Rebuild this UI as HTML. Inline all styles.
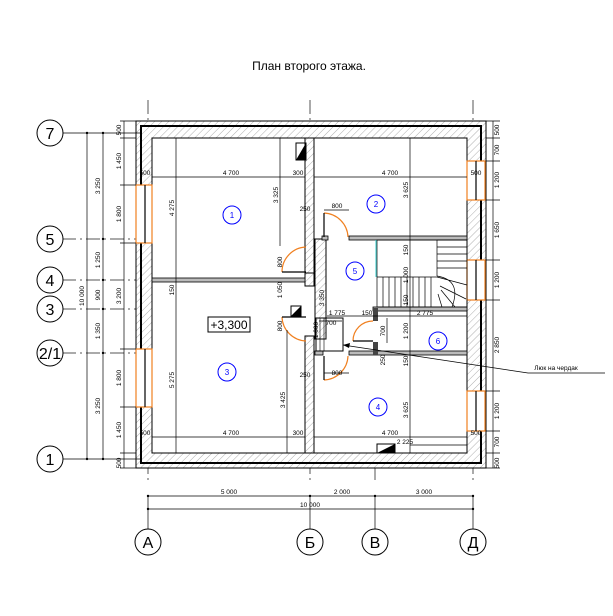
<!DOCTYPE html>
<html><head><meta charset="utf-8"><style>
html,body{margin:0;padding:0;background:#fff}
svg{display:block}
text{font-family:"Liberation Sans",sans-serif;fill:#000}
</style></head><body>
<svg width="613" height="616" viewBox="0 0 613 616" xmlns="http://www.w3.org/2000/svg">
<defs>
<pattern id="h" width="5" height="5" patternUnits="userSpaceOnUse" patternTransform="rotate(45)">
<rect width="5" height="5" fill="#fff"/><line x1="0" y1="0" x2="0" y2="5" stroke="#999" stroke-width="0.8"/>
</pattern>
</defs>
<text x="309" y="70" font-size="12" text-anchor="middle">План второго этажа.</text>

<g stroke="#555" stroke-width="1" stroke-dasharray="14,4,2,4" fill="none">
<line x1="148" y1="100" x2="148" y2="480"/>
<line x1="310" y1="100" x2="310" y2="480"/>
<line x1="375" y1="300" x2="375" y2="480"/>
<line x1="473" y1="100" x2="473" y2="480"/>
<line x1="62" y1="239" x2="470" y2="239"/>
<line x1="62" y1="280" x2="470" y2="280"/>
<line x1="62" y1="309" x2="470" y2="309"/>
<line x1="62" y1="353" x2="470" y2="353"/>
</g>

<rect x="136" y="121" width="350" height="347" fill="url(#h)" stroke="#000" stroke-width="1"/>
<rect x="141" y="126" width="340" height="337" fill="none" stroke="#000" stroke-width="2"/>
<rect x="152" y="138" width="315" height="315" fill="#fff" stroke="#000" stroke-width="1"/>

<g fill="#fff" stroke="#f08020" stroke-width="1.2">
<rect x="136" y="185" width="16" height="58"/><line x1="145" y1="185" x2="145" y2="243" stroke="#000"/>
<rect x="136" y="349" width="16" height="58"/><line x1="145" y1="349" x2="145" y2="407" stroke="#000"/>
<rect x="467" y="161" width="18" height="39"/><line x1="476" y1="161" x2="476" y2="200" stroke="#000"/>
<rect x="467" y="260" width="18" height="40"/><line x1="476" y1="260" x2="476" y2="300" stroke="#000"/>
<rect x="467" y="391" width="18" height="40"/><line x1="476" y1="391" x2="476" y2="431" stroke="#000"/>
</g>

<g fill="url(#h)" stroke="#000" stroke-width="1">
<rect x="305" y="138" width="9" height="135"/>
<rect x="305" y="273" width="9" height="13"/>
<rect x="305" y="336" width="9" height="117"/>
<rect x="315" y="239" width="11" height="100"/>
</g>
<g fill="#bbb" stroke="#000" stroke-width="0.8">
<rect x="152" y="278" width="153" height="4"/>
<rect x="349" y="236" width="118" height="4"/>
<rect x="373" y="307" width="94" height="4"/>
<rect x="349" y="351" width="118" height="4"/>
<rect x="315" y="351" width="8" height="4"/>
<rect x="322" y="236" width="6" height="4"/>
</g>
<rect x="373" y="308" width="5" height="13" fill="#444"/>
<rect x="373" y="342" width="5" height="13" fill="#444"/>

<g stroke="#000" stroke-width="0.7" fill="none">
<rect x="377" y="240" width="90" height="67"/>
<line x1="437" y1="240" x2="437" y2="276"/>
<line x1="377" y1="277" x2="437" y2="277"/>
<path d="M437 240 L467 240 M437 247 H467 M437 254 H467 M437 261 H467 M437 268 H467"/>
<path d="M383 277V307M389 277V307M395 277V307M401 277V307M407 277V307M413 277V307M419 277V307M425 277V307M431 277V307"/>
<path d="M437 276 Q462 280 452 307 M437 277 L467 285 M440 286 L466 299 M441 290 L455 307 M438 294 L442 307"/>
</g>
<line x1="376" y1="240" x2="376" y2="277" stroke="#3cc" stroke-width="1"/>

<rect x="316" y="318" width="27" height="33" fill="none" stroke="#000" stroke-width="1"/>
<rect x="320" y="318" width="4" height="33" fill="none" stroke="#000" stroke-width="0.6"/>

<g fill="none" stroke="#f08020" stroke-width="1.2">
<path d="M306 247 A25 25 0 0 0 282 272"/><line x1="282" y1="272" x2="306" y2="272" stroke="#000"/>
<path d="M282 317 A25 25 0 0 0 306 341"/><line x1="282" y1="317" x2="306" y2="317" stroke="#000"/>
<path d="M324 213 A25 25 0 0 1 348 237"/><line x1="324" y1="213" x2="324" y2="237" stroke="#000"/>
<path d="M348 356 A25 25 0 0 1 324 380"/><line x1="324" y1="356" x2="324" y2="380" stroke="#000"/>
<path d="M373 321 A20 20 0 0 0 353 341"/><line x1="353" y1="341" x2="373" y2="341" stroke="#000"/>
</g>

<polygon points="296,160 306,143 306,160" fill="#000"/><rect x="296" y="143" width="10" height="17" fill="none" stroke="#000"/>
<rect x="291" y="306" width="10" height="10" fill="none" stroke="#000"/><polygon points="291,316 301,306 301,316" fill="#000"/>
<rect x="377" y="444" width="18" height="9" fill="none" stroke="#000"/><polygon points="377,453 395,444 395,453" fill="#000"/>

<g stroke="#000" stroke-width="0.7" fill="none">
<line x1="152" y1="177" x2="305" y2="177"/><line x1="314" y1="177" x2="467" y2="177"/>
<line x1="152" y1="437" x2="305" y2="437"/><line x1="314" y1="437" x2="467" y2="437"/>
<line x1="176" y1="138" x2="176" y2="453"/>
<line x1="280" y1="138" x2="280" y2="246"/>
<line x1="287" y1="330" x2="287" y2="453"/>
<line x1="410" y1="138" x2="410" y2="453"/>
<line x1="410" y1="445" x2="467" y2="445"/>
<line x1="327" y1="316" x2="467" y2="316"/>
<line x1="324" y1="210" x2="349" y2="210"/><line x1="324" y1="373" x2="349" y2="373"/>
<line x1="319" y1="321" x2="342" y2="321"/>
<line x1="387" y1="318" x2="387" y2="343"/>
<path d="M343 345 L528 373 L605 373"/>
</g>
<polygon points="343,345 350,343 349,348" fill="#000"/>
<g font-size="6.5" text-anchor="middle">
<text x="231" y="175">4 700</text><text x="390" y="175">4 700</text>
<text x="231" y="435">4 700</text><text x="390" y="435">4 700</text>
<text x="298" y="175">300</text><text x="298" y="435">300</text>
<text x="145" y="175">500</text><text x="145" y="435">500</text>
<text x="476" y="175">500</text><text x="476" y="435">500</text>
<text x="405" y="444">2 225</text>
<text x="337" y="208">800</text><text x="337" y="375">800</text>
<text x="331" y="325">700</text>
<text x="337" y="315">1 775</text><text x="367" y="315">150</text><text x="425" y="315">2 775</text>
<text x="305" y="211">250</text><text x="305" y="377">250</text>
<text x="556" y="370">Люк на чердак</text>
</g>
<g font-size="6.5" text-anchor="middle">
<text transform="translate(174,208) rotate(-90)">4 275</text>
<text transform="translate(174,380) rotate(-90)">5 275</text>
<text transform="translate(174,290) rotate(-90)">150</text>
<text transform="translate(278,195) rotate(-90)">3 325</text>
<text transform="translate(285,400) rotate(-90)">3 425</text>
<text transform="translate(408,190) rotate(-90)">3 625</text>
<text transform="translate(408,410) rotate(-90)">3 625</text>
<text transform="translate(408,250) rotate(-90)">150</text>
<text transform="translate(408,275) rotate(-90)">1 000</text>
<text transform="translate(408,300) rotate(-90)">150</text>
<text transform="translate(408,331) rotate(-90)">1 200</text>
<text transform="translate(408,361) rotate(-90)">150</text>
<text transform="translate(324,298) rotate(-90)">3 350</text>
<text transform="translate(385,331) rotate(-90)">700</text>
<text transform="translate(282,262) rotate(-90)">800</text>
<text transform="translate(282,326) rotate(-90)">800</text>
<text transform="translate(282,290) rotate(-90)">1 050</text>
<text transform="translate(318,330) rotate(-90)">1 000</text>
<text transform="translate(385,360) rotate(-90)">250</text>
</g>

<g fill="none" stroke="#00f" stroke-width="1">
<circle cx="232" cy="215" r="9"/><circle cx="376" cy="204" r="9"/><circle cx="227" cy="372" r="9"/>
<circle cx="378" cy="407" r="9"/><circle cx="355" cy="271" r="9"/><circle cx="438" cy="341" r="9"/>
</g>
<g font-size="8" text-anchor="middle">
<text x="232" y="218" style="fill:#00f">1</text><text x="376" y="207" style="fill:#00f">2</text><text x="227" y="375" style="fill:#00f">3</text>
<text x="378" y="410" style="fill:#00f">4</text><text x="355" y="274" style="fill:#00f">5</text><text x="438" y="344" style="fill:#00f">6</text>
</g>
<rect x="208" y="317" width="42" height="15" fill="#fff" stroke="#000"/>
<text x="229" y="329" font-size="12" text-anchor="middle">+3,300</text>

<g stroke="#000" stroke-width="0.7">
<line x1="62" y1="133" x2="140" y2="133"/>
<line x1="62" y1="459" x2="140" y2="459"/>
<line x1="87" y1="133" x2="87" y2="459"/>
<line x1="103" y1="133" x2="103" y2="459"/>
<line x1="124" y1="121" x2="124" y2="468"/>
<path d="M120 121H136M120 138H136M120 185H136M120 243H136M120 349H136M120 407H136M120 453H136M120 468H136"/>
<line x1="493" y1="121" x2="493" y2="468"/>
<path d="M486 121H500M486 138H500M486 161H500M486 200H500M486 260H500M486 300H500M486 391H500M486 431H500M486 453H500M486 468H500"/>
<line x1="148" y1="496" x2="473" y2="496"/>
<line x1="148" y1="509" x2="473" y2="509"/>
<path d="M148 496V529M310 496V529M375 496V529M473 496V529"/>
</g>
<g fill="#000">
<circle cx="87" cy="133" r="1.2"/><circle cx="87" cy="459" r="1.2"/>
<circle cx="103" cy="133" r="1.2"/><circle cx="103" cy="239" r="1.2"/><circle cx="103" cy="280" r="1.2"/><circle cx="103" cy="309" r="1.2"/><circle cx="103" cy="353" r="1.2"/><circle cx="103" cy="459" r="1.2"/>
<circle cx="148" cy="496" r="1.2"/><circle cx="310" cy="496" r="1.2"/><circle cx="375" cy="496" r="1.2"/><circle cx="473" cy="496" r="1.2"/>
<circle cx="148" cy="509" r="1.2"/><circle cx="473" cy="509" r="1.2"/>
</g>
<g font-size="6.5" text-anchor="middle">
<text transform="translate(84,296) rotate(-90)">10 000</text>
<text transform="translate(100,186) rotate(-90)">3 250</text>
<text transform="translate(100,260) rotate(-90)">1 250</text>
<text transform="translate(100,295) rotate(-90)">900</text>
<text transform="translate(100,331) rotate(-90)">1 350</text>
<text transform="translate(100,406) rotate(-90)">3 250</text>
<text transform="translate(121,130) rotate(-90)">500</text>
<text transform="translate(121,161) rotate(-90)">1 450</text>
<text transform="translate(121,214) rotate(-90)">1 800</text>
<text transform="translate(121,296) rotate(-90)">3 200</text>
<text transform="translate(121,378) rotate(-90)">1 800</text>
<text transform="translate(121,430) rotate(-90)">1 450</text>
<text transform="translate(121,463) rotate(-90)">500</text>
<text transform="translate(499,130) rotate(-90)">500</text>
<text transform="translate(499,150) rotate(-90)">700</text>
<text transform="translate(499,180) rotate(-90)">1 200</text>
<text transform="translate(499,230) rotate(-90)">1 650</text>
<text transform="translate(499,280) rotate(-90)">1 200</text>
<text transform="translate(499,345) rotate(-90)">2 850</text>
<text transform="translate(499,411) rotate(-90)">1 200</text>
<text transform="translate(499,442) rotate(-90)">700</text>
<text transform="translate(499,463) rotate(-90)">500</text>
<text x="229" y="494">5 000</text><text x="342" y="494">2 000</text><text x="424" y="494">3 000</text>
<text x="310" y="507">10 000</text>
</g>

<g fill="#fff" stroke="#000" stroke-width="1">
<circle cx="50" cy="133" r="13"/><circle cx="50" cy="239" r="13"/><circle cx="50" cy="280" r="13"/>
<circle cx="50" cy="309" r="13"/><circle cx="50" cy="353" r="13"/><circle cx="50" cy="459" r="13"/>
<circle cx="148" cy="542" r="13"/><circle cx="310" cy="542" r="13"/><circle cx="375" cy="542" r="13"/><circle cx="473" cy="542" r="13"/>
</g>
<g font-size="16" text-anchor="middle">
<text x="50" y="139">7</text><text x="50" y="245">5</text><text x="50" y="286">4</text>
<text x="50" y="315">3</text><text x="50" y="359">2/1</text><text x="50" y="465">1</text>
<text x="148" y="548">А</text><text x="310" y="548">Б</text><text x="375" y="548">В</text><text x="473" y="548">Д</text>
</g>
</svg>
</body></html>
